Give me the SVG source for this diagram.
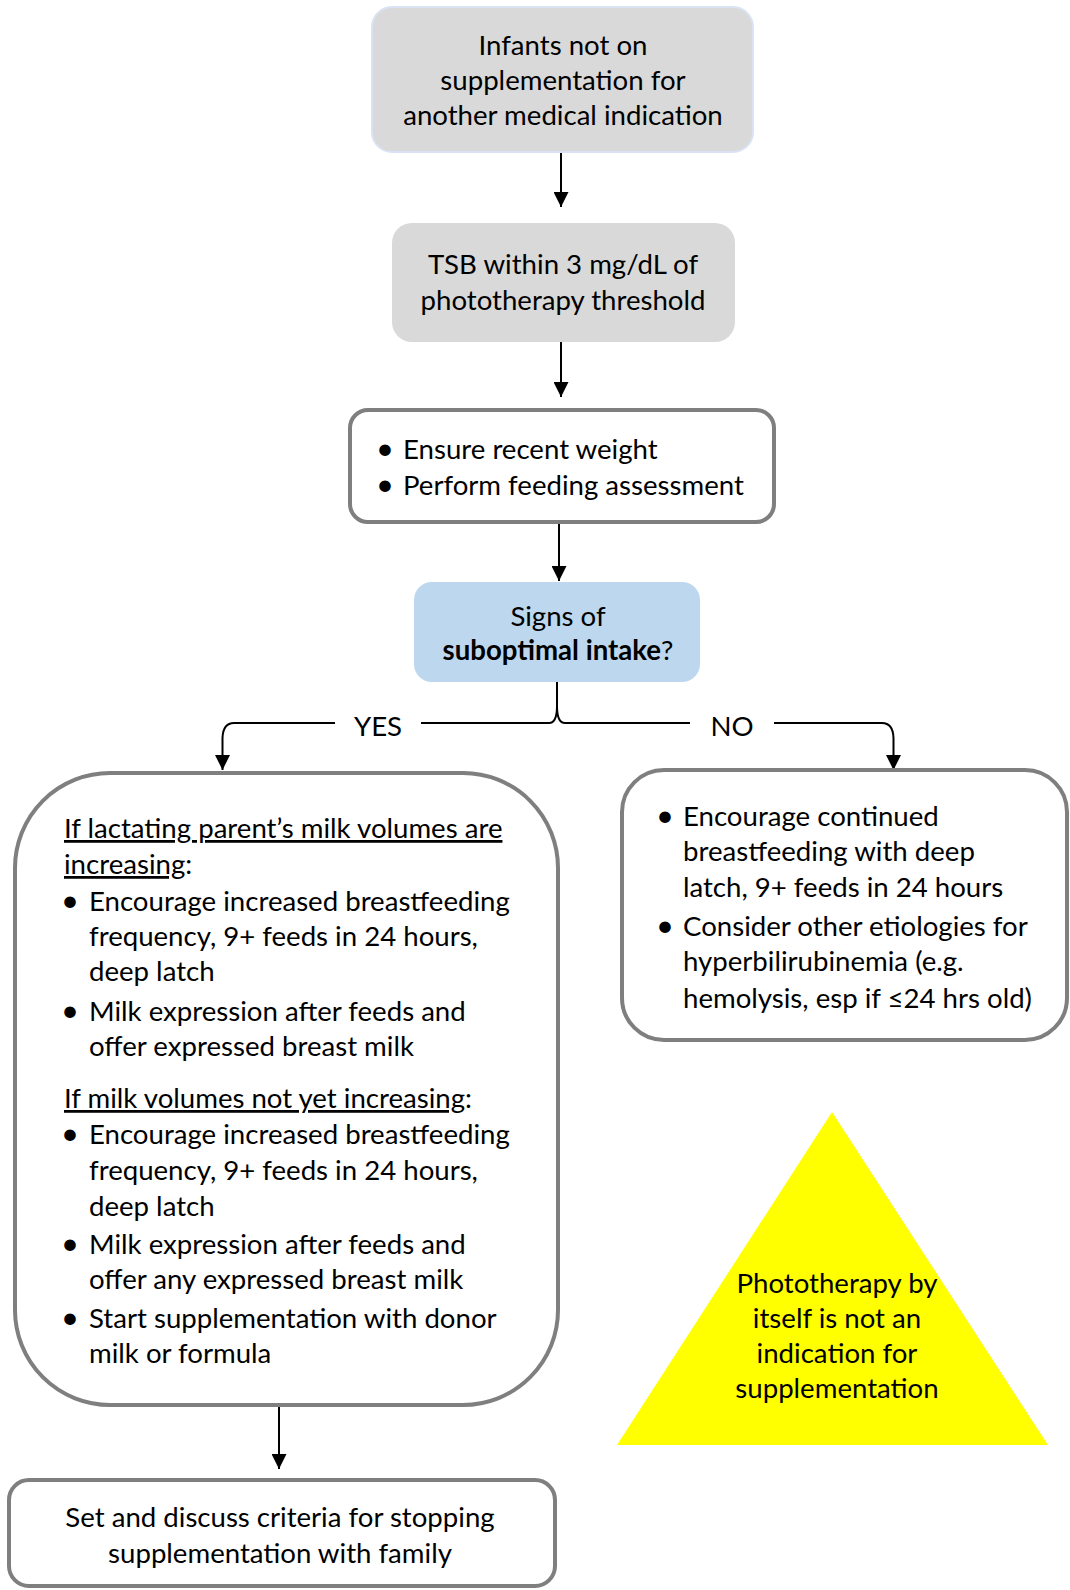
<svg xmlns="http://www.w3.org/2000/svg" width="1070" height="1590" viewBox="0 0 1070 1590">
<defs>
<style>
.t{font-family:Lato,"Liberation Sans",sans-serif;font-size:27.6px;fill:#000}
.c{text-anchor:middle}
.b{text-anchor:middle;font-size:31px}
.gray{fill:#d9d9d9}
.out{fill:#fff;stroke:#7f7f7f;stroke-width:4}
.conn{fill:none;stroke:#000;stroke-width:2}
.u{text-decoration:underline}
</style>
<marker id="ah" viewBox="0 0 10 10" refX="10" refY="5" markerWidth="7.5" markerHeight="7.5" orient="auto" markerUnits="strokeWidth">
<path d="M0,0 L10,5 L0,10 Z" fill="#000"/>
</marker>
</defs>
<rect width="1070" height="1590" fill="#fff"/>

<g id="connectors">
<path class="conn" d="M561,152 L561,207" marker-end="url(#ah)"/>
<path class="conn" d="M561,342 L561,397" marker-end="url(#ah)"/>
<path class="conn" d="M559,522 L559,581" marker-end="url(#ah)"/>
<path class="conn" d="M557,682 L557,706 Q557,723 549,723 L421,723 M335,723 L234,723 Q223,723 222.5,738 L222.5,770" marker-end="url(#ah)"/>
<path class="conn" d="M557,706 Q557,723 565,723 L690,723 M774,723 L882,723 Q893,723 893.5,738 L893.5,770" marker-end="url(#ah)"/>
<path class="conn" d="M279,1405 L279,1469" marker-end="url(#ah)"/>
<text class="t c" x="378" y="736">YES</text>
<text class="t c" x="732" y="736">NO</text>
</g>

<g id="n1">
<rect x="372" y="7" width="381" height="145" rx="20" fill="#d9d9d9" stroke="#dae3f3" stroke-width="2"/>
<text class="t c" x="563" y="55">Infants not on</text>
<text class="t c" x="563" y="90">supplementation for</text>
<text class="t c" x="563" y="125">another medical indication</text>
</g>

<g id="n2">
<rect class="gray" x="392" y="223" width="343" height="119" rx="20"/>
<text class="t c" x="563" y="274">TSB within 3 mg/dL of</text>
<text class="t c" x="563" y="310">phototherapy threshold</text>
</g>

<g id="n3">
<rect class="out" x="350" y="410" width="424" height="112" rx="18"/>
<text class="t b" x="385" y="459">•</text>
<text class="t" x="403" y="459">Ensure recent weight</text>
<text class="t b" x="385" y="495">•</text>
<text class="t" x="403" y="495">Perform feeding assessment</text>
</g>

<g id="n4">
<rect x="414" y="582" width="286" height="100" rx="18" fill="#bdd7ee"/>
<text class="t c" x="558" y="626">Signs of</text>
<text class="t c" x="558" y="660"><tspan font-weight="bold">suboptimal intake</tspan>?</text>
</g>

<g id="n5">
<rect class="out" x="15" y="773" width="543" height="632" rx="95"/>
<text class="t" x="64" y="838"><tspan class="u">If lactating parent’s milk volumes are</tspan></text>
<text class="t" x="64" y="874"><tspan class="u">increasing</tspan>:</text>
<text class="t b" x="70" y="911">•</text>
<text class="t" x="89" y="911">Encourage increased breastfeeding</text>
<text class="t" x="89" y="946">frequency, 9+ feeds in 24 hours,</text>
<text class="t" x="89" y="981">deep latch</text>
<text class="t b" x="70" y="1021">•</text>
<text class="t" x="89" y="1021">Milk expression after feeds and</text>
<text class="t" x="89" y="1056">offer expressed breast milk</text>
<text class="t" x="64" y="1108"><tspan class="u">If milk volumes not yet increasing</tspan>:</text>
<text class="t b" x="70" y="1144">•</text>
<text class="t" x="89" y="1144">Encourage increased breastfeeding</text>
<text class="t" x="89" y="1180">frequency, 9+ feeds in 24 hours,</text>
<text class="t" x="89" y="1216">deep latch</text>
<text class="t b" x="70" y="1254">•</text>
<text class="t" x="89" y="1254">Milk expression after feeds and</text>
<text class="t" x="89" y="1289">offer any expressed breast milk</text>
<text class="t b" x="70" y="1328">•</text>
<text class="t" x="89" y="1328">Start supplementation with donor</text>
<text class="t" x="89" y="1363">milk or formula</text>
</g>

<g id="n6">
<rect class="out" x="622" y="770" width="445" height="270" rx="42"/>
<text class="t b" x="665" y="826">•</text>
<text class="t" x="683" y="826">Encourage continued</text>
<text class="t" x="683" y="861">breastfeeding with deep</text>
<text class="t" x="683" y="897">latch, 9+ feeds in 24 hours</text>
<text class="t b" x="665" y="936">•</text>
<text class="t" x="683" y="936">Consider other etiologies for</text>
<text class="t" x="683" y="971">hyperbilirubinemia (e.g.</text>
<text class="t" x="683" y="1008">hemolysis, esp if ≤24 hrs old)</text>
</g>

<g id="n7">
<polygon points="832,1112 1048,1445 617,1445" fill="#ffff00"/>
<text class="t c" x="837" y="1293">Phototherapy by</text>
<text class="t c" x="837" y="1328">itself is not an</text>
<text class="t c" x="837" y="1363">indication for</text>
<text class="t c" x="837" y="1398">supplementation</text>
</g>

<g id="n8">
<rect class="out" x="9" y="1480" width="546" height="106" rx="20"/>
<text class="t c" x="280" y="1527">Set and discuss criteria for stopping</text>
<text class="t c" x="280" y="1563">supplementation with family</text>
</g>
</svg>
